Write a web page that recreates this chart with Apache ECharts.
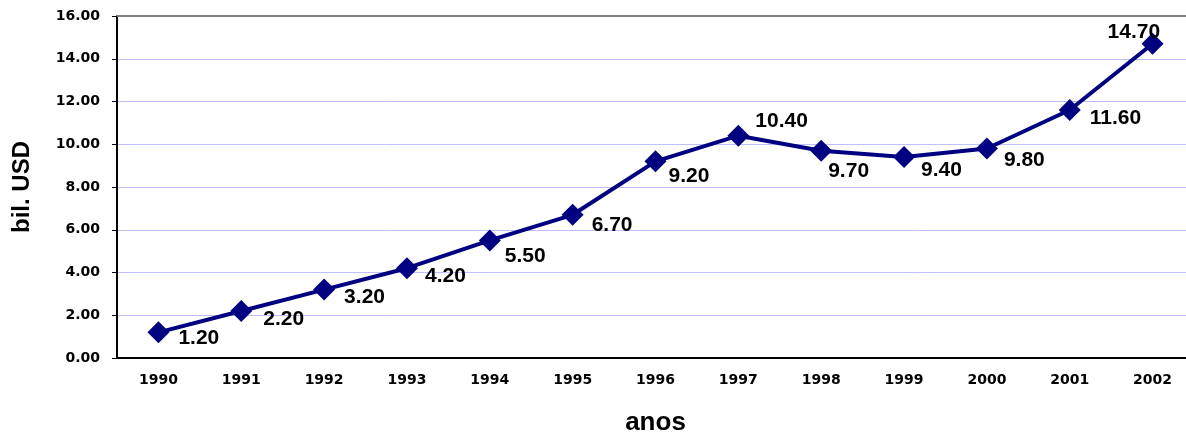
<!DOCTYPE html>
<html>
<head>
<meta charset="utf-8">
<script src="https://cdn.jsdelivr.net/npm/echarts@6/dist/echarts.min.js"></script>
<style>
  html, body { margin: 0; padding: 0; background: #fff; }
  #chart { width: 1186px; height: 434px; }
</style>
</head>
<body>
<div id="chart"></div>
<script>
var years = ['1990','1991','1992','1993','1994','1995','1996','1997','1998','1999','2000','2001','2002'];
var values = [1.2, 2.2, 3.2, 4.2, 5.5, 6.7, 9.2, 10.4, 9.7, 9.4, 9.8, 11.6, 14.7];
// where each value label sits, relative to the right edge of its marker
var labelOffsets = [[9,6],[11,8],[9,8],[7,8],[4,16],[8,10],[2,15],[6,-14],[-4,21],[6,13],[6,12],[9,8],[-56,-12]];

var chart = echarts.init(document.getElementById('chart'));

var seriesData = values.map(function (v, i) {
  return { value: v, label: { offset: labelOffsets[i] } };
});

var option = {
  animation: false,
  // plot area runs a little past the right edge, as in the original
  grid: { left: 117, right: -8, top: 16, bottom: 76, outerBoundsMode: 'none' },
  xAxis: [{
    type: 'category',
    data: years,
    name: 'anos',
    nameLocation: 'middle',
    nameGap: 52,
    nameTextStyle: { fontFamily: 'Arial, Liberation Sans', fontWeight: 'bold', fontSize: 26, color: '#000' },
    axisLine: { lineStyle: { color: '#000', width: 2 } },
    axisTick: { inside: true, length: 5, lineStyle: { color: '#000' } },
    axisLabel: { fontFamily: 'DejaVu Sans', fontWeight: 'bold', fontSize: 14, color: '#000', margin: 15 }
  }, {
    type: 'category',
    data: years,
    position: 'top',
    axisLine: { lineStyle: { color: '#808080', width: 2 } },
    axisTick: { show: false },
    axisLabel: { show: false }
  }],
  yAxis: {
    type: 'value',
    min: 0,
    max: 16,
    interval: 2,
    name: 'bil. USD',
    nameLocation: 'middle',
    nameGap: 83,
    nameTextStyle: { fontFamily: 'Arial, Liberation Sans', fontWeight: 'bold', fontSize: 24, color: '#000' },
    axisLine: { show: true, lineStyle: { color: '#000', width: 2 } },
    axisTick: { show: true, length: 5, lineStyle: { color: '#000' } },
    axisLabel: {
      fontFamily: 'DejaVu Sans', fontWeight: 'bold', fontSize: 14, color: '#000', margin: 17,
      formatter: function (v) { return v.toFixed(2); }
    },
    splitLine: { lineStyle: { color: '#c0c0ff', width: 1 } }
  },
  series: [{
    type: 'line',
    data: seriesData,
    symbol: 'diamond',
    symbolSize: 22,
    itemStyle: { color: '#000080' },
    lineStyle: { color: '#000080', width: 4 },
    label: {
      show: true,
      position: 'right',
      distance: 0,
      fontFamily: 'Arial, Liberation Sans',
      fontWeight: 'bold',
      fontSize: 21,
      color: '#000',
      formatter: function (p) { return p.value.toFixed(2); }
    }
  }]
};

chart.setOption(option);
</script>
</body>
</html>
